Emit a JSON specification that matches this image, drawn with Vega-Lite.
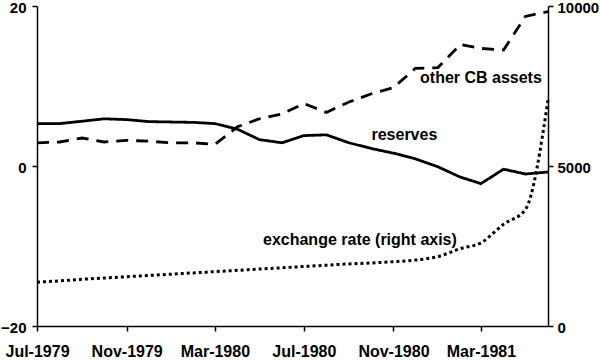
{
  "$schema": "https://vega.github.io/schema/vega-lite/v6.json",
  "width": 511,
  "height": 320,
  "autosize": {"type": "none"},
  "padding": {"left": 37, "top": 6, "right": 52, "bottom": 34},
  "config": {
    "view": {"stroke": null},
    "font": "Liberation Sans",
    "axis": {"grid": false, "domainColor": "black", "tickColor": "black", "domainWidth": 1.5, "tickWidth": 1.5, "labelColor": "black", "labelFont": "Liberation Sans", "labelFontWeight": "bold", "labelFontSize": 15, "title": null, "tickSize": 5}
  },
  "datasets": {
    "series": [
      {"date": "1979-07-01", "series": "reserves", "value": 5.3},
      {"date": "1979-08-01", "series": "reserves", "value": 5.3},
      {"date": "1979-09-01", "series": "reserves", "value": 5.6},
      {"date": "1979-10-01", "series": "reserves", "value": 5.9},
      {"date": "1979-11-01", "series": "reserves", "value": 5.8},
      {"date": "1979-12-01", "series": "reserves", "value": 5.55},
      {"date": "1980-01-01", "series": "reserves", "value": 5.5},
      {"date": "1980-02-01", "series": "reserves", "value": 5.45},
      {"date": "1980-03-01", "series": "reserves", "value": 5.3},
      {"date": "1980-04-01", "series": "reserves", "value": 4.6},
      {"date": "1980-05-01", "series": "reserves", "value": 3.3},
      {"date": "1980-06-01", "series": "reserves", "value": 2.9},
      {"date": "1980-07-01", "series": "reserves", "value": 3.8},
      {"date": "1980-08-01", "series": "reserves", "value": 3.9},
      {"date": "1980-09-01", "series": "reserves", "value": 2.9},
      {"date": "1980-10-01", "series": "reserves", "value": 2.2},
      {"date": "1980-11-01", "series": "reserves", "value": 1.6},
      {"date": "1980-12-01", "series": "reserves", "value": 0.9},
      {"date": "1981-01-01", "series": "reserves", "value": -0.1},
      {"date": "1981-02-01", "series": "reserves", "value": -1.4},
      {"date": "1981-03-01", "series": "reserves", "value": -2.2},
      {"date": "1981-04-01", "series": "reserves", "value": -0.4},
      {"date": "1981-05-01", "series": "reserves", "value": -1.0},
      {"date": "1981-06-01", "series": "reserves", "value": -0.75},
      {"date": "1979-07-01", "series": "other", "value": 2.9},
      {"date": "1979-08-01", "series": "other", "value": 3.0},
      {"date": "1979-09-01", "series": "other", "value": 3.5},
      {"date": "1979-10-01", "series": "other", "value": 3.0},
      {"date": "1979-11-01", "series": "other", "value": 3.2},
      {"date": "1979-12-01", "series": "other", "value": 3.1},
      {"date": "1980-01-01", "series": "other", "value": 2.9},
      {"date": "1980-02-01", "series": "other", "value": 2.9},
      {"date": "1980-03-01", "series": "other", "value": 2.7},
      {"date": "1980-04-01", "series": "other", "value": 4.9},
      {"date": "1980-05-01", "series": "other", "value": 5.9},
      {"date": "1980-06-01", "series": "other", "value": 6.5},
      {"date": "1980-07-01", "series": "other", "value": 7.8},
      {"date": "1980-08-01", "series": "other", "value": 6.7},
      {"date": "1980-09-01", "series": "other", "value": 8.0},
      {"date": "1980-10-01", "series": "other", "value": 9.0},
      {"date": "1980-11-01", "series": "other", "value": 9.8},
      {"date": "1980-12-01", "series": "other", "value": 12.2},
      {"date": "1981-01-01", "series": "other", "value": 12.3},
      {"date": "1981-02-01", "series": "other", "value": 15.2},
      {"date": "1981-03-01", "series": "other", "value": 14.7},
      {"date": "1981-04-01", "series": "other", "value": 14.5},
      {"date": "1981-05-01", "series": "other", "value": 18.7},
      {"date": "1981-06-01", "series": "other", "value": 19.3},
      {"date": "1979-07-01", "series": "fx", "value": 1370},
      {"date": "1979-08-01", "series": "fx", "value": 1410},
      {"date": "1979-09-01", "series": "fx", "value": 1460},
      {"date": "1979-10-01", "series": "fx", "value": 1500},
      {"date": "1979-11-01", "series": "fx", "value": 1540},
      {"date": "1979-12-01", "series": "fx", "value": 1580},
      {"date": "1980-01-01", "series": "fx", "value": 1620},
      {"date": "1980-02-01", "series": "fx", "value": 1660},
      {"date": "1980-03-01", "series": "fx", "value": 1700},
      {"date": "1980-04-01", "series": "fx", "value": 1740},
      {"date": "1980-05-01", "series": "fx", "value": 1780},
      {"date": "1980-06-01", "series": "fx", "value": 1820},
      {"date": "1980-07-01", "series": "fx", "value": 1860},
      {"date": "1980-08-01", "series": "fx", "value": 1900},
      {"date": "1980-09-01", "series": "fx", "value": 1940},
      {"date": "1980-10-01", "series": "fx", "value": 1970},
      {"date": "1980-11-01", "series": "fx", "value": 2010},
      {"date": "1980-12-01", "series": "fx", "value": 2060},
      {"date": "1981-01-01", "series": "fx", "value": 2170},
      {"date": "1981-02-01", "series": "fx", "value": 2420},
      {"date": "1981-03-01", "series": "fx", "value": 2600},
      {"date": "1981-04-01", "series": "fx", "value": 3180},
      {"date": "1981-05-01", "series": "fx", "value": 3640},
      {"date": "1981-06-01", "series": "fx", "value": 7060}
    ],
    "labels": [
      {"date": "1981-03-01", "value": 11.0, "label": "other CB assets"},
      {"date": "1980-11-16", "value": 3.85, "label": "reserves"},
      {"date": "1980-09-16", "value": -9.3, "label": "exchange rate (right axis)"}
    ]
  },
  "layer": [
    {
      "layer": [
        {
          "data": {"name": "series"},
          "transform": [{"filter": "datum.series !== 'fx'"}],
          "mark": {"type": "line", "color": "black", "strokeWidth": 2.8},
          "encoding": {
            "x": {"field": "date", "type": "temporal", "scale": {"domain": ["1979-07-01", "1981-06-01"]},
                  "axis": {"values": ["1979-07-01", "1979-11-01", "1980-03-01", "1980-07-01", "1980-11-01", "1981-03-01"], "format": "%b-%Y", "labelFontSize": 16, "labelPadding": 12, "labelFlush": false}},
            "y": {"field": "value", "type": "quantitative", "scale": {"domain": [-20, 20], "nice": false, "zero": false},
                  "axis": {"values": [-20, 0, 20], "labelPadding": 6, "labelFlush": false, "labelOffset": 1.5}},
            "strokeDash": {"field": "series", "type": "nominal", "scale": {"domain": ["reserves", "other"], "range": [[1, 0], [12, 8]]}, "legend": null}
          }
        },
        {
          "data": {"name": "labels"},
          "mark": {"type": "text", "font": "Liberation Sans", "fontWeight": "bold", "fontSize": 16, "color": "black", "align": "center", "baseline": "middle"},
          "encoding": {
            "x": {"field": "date", "type": "temporal"},
            "y": {"field": "value", "type": "quantitative"},
            "text": {"field": "label"}
          }
        }
      ]
    },
    {
      "data": {"name": "series"},
      "transform": [{"filter": "datum.series === 'fx'"}],
      "mark": {"type": "line", "color": "black", "strokeWidth": 3, "strokeDash": [3, 3], "interpolate": "monotone"},
      "encoding": {
        "x": {"field": "date", "type": "temporal"},
        "y": {"field": "value", "type": "quantitative", "scale": {"domain": [0, 10000], "nice": false},
              "axis": {"orient": "right", "values": [0, 5000, 10000], "format": "d", "labelPadding": 4, "labelFlush": false, "labelOffset": 1.5}}
      }
    }
  ],
  "resolve": {"scale": {"y": "independent"}}
}
